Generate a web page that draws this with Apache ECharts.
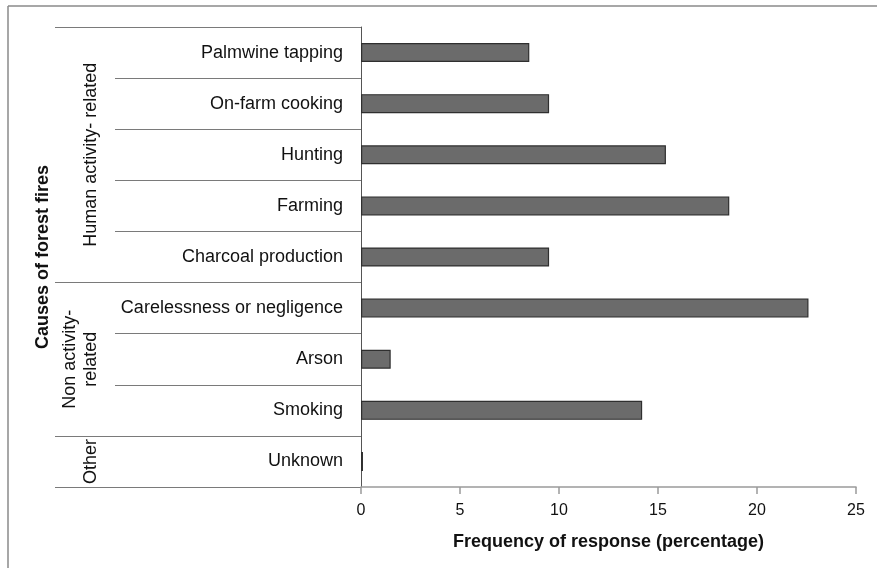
<!DOCTYPE html>
<html>
<head>
<meta charset="utf-8">
<script src="https://cdn.jsdelivr.net/npm/echarts@6/dist/echarts.min.js"></script>
<style>
  html, body { margin: 0; padding: 0; background: #fff; }
  #chart { width: 877px; height: 568px; }
</style>
</head>
<body>
<div id="chart"></div>
<script>
const categories = ['Palmwine tapping', 'On-farm cooking', 'Hunting', 'Farming', 'Charcoal production',
  'Carelessness or negligence', 'Arson', 'Smoking', 'Unknown'];
const values = [8.5, 9.5, 15.4, 18.6, 9.5, 22.6, 1.5, 14.2, 0.1];
const groupNames = ['Human activity- related', 'Non activity-\nrelated', 'Other'];
const groupSizes = [5, 3, 1];
const xTicks = [0, 5, 10, 15, 20, 25];

const font = "'Liberation Sans', Arial, sans-serif";

// first index of each group, and the middle row where its label sits
const groupStarts = [];
const groupMiddles = {};
let start = 0;
groupSizes.forEach((size, i) => {
  groupStarts.push(start);
  groupMiddles[start + Math.floor(size / 2)] = groupNames[i];
  start += size;
});

const chart = echarts.init(document.getElementById('chart'));

chart.setOption({
  animation: false,
  grid: { left: 361, right: 21, top: 27, bottom: 81, outerBoundsMode: 'none' },
  xAxis: {
    type: 'value',
    min: xTicks[0],
    max: xTicks[xTicks.length - 1],
    interval: xTicks[1] - xTicks[0],
    splitLine: { show: false },
    axisLine: { show: true, lineStyle: { color: '#9a9a9a', width: 1.5 } },
    axisTick: { show: true, length: 7, lineStyle: { color: '#9a9a9a', width: 1.5 } },
    axisLabel: { color: '#111', fontSize: 16, fontFamily: font, margin: 16 },
    name: 'Frequency of response (percentage)',
    nameLocation: 'middle',
    nameGap: 46,
    nameTextStyle: { color: '#111', fontSize: 18, fontWeight: 'bold', fontFamily: font }
  },
  yAxis: [
    {
      type: 'category',
      data: categories,
      inverse: true,
      position: 'left',
      axisLine: { show: true, lineStyle: { color: '#555', width: 1 } },
      axisTick: { show: true, length: 246, lineStyle: { color: '#7a7a7a', width: 1 } },
      axisLabel: { interval: 0, color: '#111', fontSize: 18, fontFamily: font, margin: 18 }
    },
    {
      type: 'category',
      data: categories,
      inverse: true,
      position: 'left',
      axisLine: { show: false },
      axisTick: {
        show: true,
        length: 306,
        interval: (index) => groupStarts.includes(index),
        lineStyle: { color: '#7a7a7a', width: 1 }
      },
      axisLabel: {
        interval: 0,
        rotate: 90,
        margin: 259,
        color: '#111',
        fontSize: 18,
        lineHeight: 21,
        fontFamily: font,
        formatter: (value, index) => groupMiddles[index] || ''
      },
      name: 'Causes of forest fires',
      nameLocation: 'middle',
      nameRotate: 90,
      nameGap: 300,
      nameTextStyle: { color: '#111', fontSize: 18, fontWeight: 'bold', fontFamily: font }
    }
  ],
  series: [
    {
      type: 'bar',
      data: values,
      barWidth: 19,
      itemStyle: { color: '#6b6b6b', borderColor: '#2f2f2f', borderWidth: 1.2 }
    }
  ],
  graphic: [
    { type: 'line', shape: { x1: 8, y1: 6, x2: 877, y2: 6 }, style: { stroke: '#8a8a8a', lineWidth: 1.5 } },
    { type: 'line', shape: { x1: 8, y1: 6, x2: 8, y2: 568 }, style: { stroke: '#8a8a8a', lineWidth: 1.5 } }
  ]
});

window.addEventListener('resize', chart.resize);
</script>
</body>
</html>
